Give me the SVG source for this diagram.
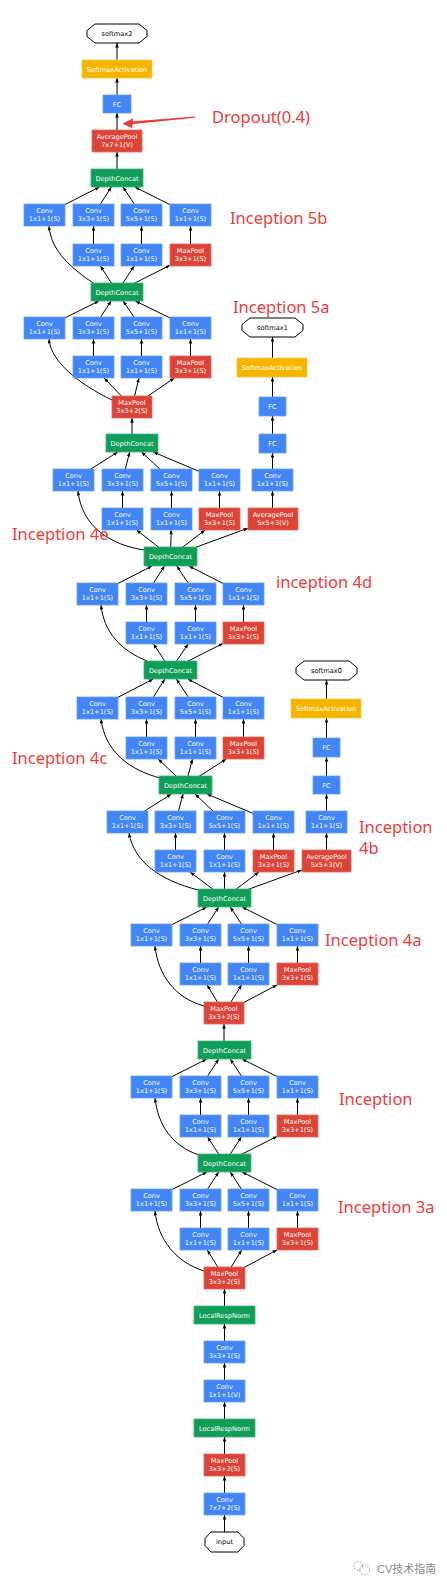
<svg xmlns="http://www.w3.org/2000/svg" width="447" height="1587" viewBox="0 0 447 1587">
<style>
.b{fill:#4285F4;stroke:#6A9EF6;stroke-width:0.8}
.r{fill:#DB4437;stroke:#E46A5F;stroke-width:0.8}
.g{fill:#0F9D58;stroke:#3DB37A;stroke-width:0.8}
.y{fill:#F4B400;stroke:#F7C640;stroke-width:0.8}
.o{fill:#fff;stroke:#000;stroke-width:1}
.t{fill:#fff;font-family:"DejaVu Sans",sans-serif;font-size:6.6px;text-anchor:middle}
.k{fill:#000;font-family:"DejaVu Sans",sans-serif;font-size:6.6px;text-anchor:middle}
.e{fill:none;stroke:#000;stroke-width:1;marker-end:url(#ah)}
.lb{fill:#F03A3A;font-family:"Noto Sans","Liberation Sans",sans-serif;font-size:16.5px}
</style>
<defs>
<marker id="ah" markerUnits="userSpaceOnUse" markerWidth="6" markerHeight="6" refX="4.5" refY="1.8" orient="auto"><path d="M0,0 L4.5,1.8 L0,3.6 z" fill="#000"/></marker>
</defs>
<rect width="447" height="1587" fill="#fff"/>
<g id="connectors">
<path class="e" d="M117,178 V152"/>
<path class="e" d="M117,141 V113"/>
<path class="e" d="M117,104 V78"/>
<path class="e" d="M117,69 V43"/>
<path class="e" d="M93,283 C73,269 51,252 49,226"/>
<path class="e" d="M117,292 L100.5,266"/>
<path class="e" d="M117,292 L134.2,266"/>
<path class="e" d="M117,292 L170,265.3"/>
<path class="e" d="M93.5,255 V226"/>
<path class="e" d="M141.5,255 V226"/>
<path class="e" d="M190.5,255 V226"/>
<path class="e" d="M44.5,215 L99.4,187"/>
<path class="e" d="M93.5,215 L111.3,187"/>
<path class="e" d="M141.5,215 L123,187"/>
<path class="e" d="M190.5,215 L134.9,187"/>
<path class="e" d="M112,400 C87,388 51,365 49,339"/>
<path class="e" d="M132,407 L104.1,378"/>
<path class="e" d="M132,407 L138.9,378"/>
<path class="e" d="M132,407 L174.4,378"/>
<path class="e" d="M93.5,367 V339"/>
<path class="e" d="M141.5,367 V339"/>
<path class="e" d="M190.5,367 V339"/>
<path class="e" d="M44.5,328 L98.9,301"/>
<path class="e" d="M93.5,328 L111.1,301"/>
<path class="e" d="M141.5,328 L123.1,301"/>
<path class="e" d="M190.5,328 L135.4,301"/>
<path class="e" d="M132,443 V418"/>
<path class="e" d="M144,550 C112,545 82,528 78,491"/>
<path class="e" d="M170.5,556.5 L136.6,530"/>
<path class="e" d="M170.5,556.5 L171.2,530"/>
<path class="e" d="M170.5,556.5 L205.1,530"/>
<path class="e" d="M170.5,556.5 L248,528.2"/>
<path class="e" d="M122.5,519 V491"/>
<path class="e" d="M171.5,519 V491"/>
<path class="e" d="M219.5,519 V491"/>
<path class="e" d="M73.5,480 L117.8,452"/>
<path class="e" d="M122.5,480 L129.7,452"/>
<path class="e" d="M171.5,480 L141.6,452"/>
<path class="e" d="M219.5,480 L153.3,452"/>
<path class="e" d="M272.5,519 V491"/>
<path class="e" d="M272.5,480 V453"/>
<path class="e" d="M272.5,443 V416"/>
<path class="e" d="M272.5,406 V377"/>
<path class="e" d="M272.5,367 V337"/>
<path class="e" d="M147,661 C120,650 104,632 101,605"/>
<path class="e" d="M170.5,670 L153.6,644"/>
<path class="e" d="M170.5,670 L188.1,644"/>
<path class="e" d="M170.5,670 L223,643.4"/>
<path class="e" d="M146.5,633 V605"/>
<path class="e" d="M195.5,633 V605"/>
<path class="e" d="M243.5,633 V605"/>
<path class="e" d="M97.5,594 L152,566"/>
<path class="e" d="M146.5,594 L164.4,566"/>
<path class="e" d="M195.5,594 L176.8,566"/>
<path class="e" d="M243.5,594 L189,566"/>
<path class="e" d="M160,778 C130,770 105,752 101,719"/>
<path class="e" d="M185.5,785 L158.1,759"/>
<path class="e" d="M185.5,785 L192.5,759"/>
<path class="e" d="M185.5,785 L226.3,759"/>
<path class="e" d="M146.5,748 V719"/>
<path class="e" d="M195.5,748 V719"/>
<path class="e" d="M243.5,748 V719"/>
<path class="e" d="M97.5,708 L153.2,679"/>
<path class="e" d="M146.5,708 L164.8,679"/>
<path class="e" d="M195.5,708 L176.4,679"/>
<path class="e" d="M243.5,708 L187.8,679"/>
<path class="e" d="M198,890 C160,880 134,862 129,833"/>
<path class="e" d="M224.5,898 L190.1,872"/>
<path class="e" d="M224.5,898 V872"/>
<path class="e" d="M224.5,898 L258.9,872"/>
<path class="e" d="M224.5,898 L302,869.9"/>
<path class="e" d="M175.5,861 V833"/>
<path class="e" d="M224.5,861 V833"/>
<path class="e" d="M273.5,861 V833"/>
<path class="e" d="M127.5,822 L171.4,794"/>
<path class="e" d="M175.5,822 L183.1,794"/>
<path class="e" d="M224.5,822 L195,794"/>
<path class="e" d="M273.5,822 L206.9,794"/>
<path class="e" d="M326.5,861 V833"/>
<path class="e" d="M326.5,822 V794"/>
<path class="e" d="M326.5,785 V757"/>
<path class="e" d="M326.5,747 V718"/>
<path class="e" d="M326.5,708 V680"/>
<path class="e" d="M204,1006 C175,998 158,975 155,946"/>
<path class="e" d="M224,1013 L207.1,985"/>
<path class="e" d="M224,1013 L241.6,985"/>
<path class="e" d="M224,1013 L277,984.9"/>
<path class="e" d="M200.5,974 V946"/>
<path class="e" d="M248.5,974 V946"/>
<path class="e" d="M297.5,974 V946"/>
<path class="e" d="M151.5,935 L206.8,907"/>
<path class="e" d="M200.5,935 L218.7,907"/>
<path class="e" d="M248.5,935 L230.3,907"/>
<path class="e" d="M297.5,935 L242.2,907"/>
<path class="e" d="M224,1050 V1024"/>
<path class="e" d="M199,1155 C172,1146 158,1125 155,1098"/>
<path class="e" d="M224.5,1163 L207.6,1137"/>
<path class="e" d="M224.5,1163 L241.4,1137"/>
<path class="e" d="M224.5,1163 L277,1136.4"/>
<path class="e" d="M200.5,1126 V1098"/>
<path class="e" d="M248.5,1126 V1098"/>
<path class="e" d="M297.5,1126 V1098"/>
<path class="e" d="M151.5,1087 L206.8,1059"/>
<path class="e" d="M200.5,1087 L218.7,1059"/>
<path class="e" d="M248.5,1087 L230.3,1059"/>
<path class="e" d="M297.5,1087 L242.2,1059"/>
<path class="e" d="M204,1271 C176,1262 158,1240 155,1211"/>
<path class="e" d="M224.5,1278 L207.3,1250"/>
<path class="e" d="M224.5,1278 L241.7,1250"/>
<path class="e" d="M224.5,1278 L277,1249.9"/>
<path class="e" d="M200.5,1239 V1211"/>
<path class="e" d="M248.5,1239 V1211"/>
<path class="e" d="M297.5,1239 V1211"/>
<path class="e" d="M151.5,1200 L206.8,1172"/>
<path class="e" d="M200.5,1200 L218.7,1172"/>
<path class="e" d="M248.5,1200 L230.3,1172"/>
<path class="e" d="M297.5,1200 L242.2,1172"/>
<path class="e" d="M224.5,1315 V1289"/>
<path class="e" d="M224.5,1352 V1324"/>
<path class="e" d="M224.5,1391 V1363"/>
<path class="e" d="M224.5,1428 V1402"/>
<path class="e" d="M224.5,1465 V1437"/>
<path class="e" d="M224.5,1504 V1476"/>
<path class="e" d="M224.5,1542 V1515"/>
</g>
<g id="softmax2"><polygon class="o" points="95,24 139,24 147,30.5 147,36.5 139,43 95,43 87,36.5 87,30.5"/><text class="k" x="117" y="35.8">softmax2</text></g>
<g id="sa2"><rect class="y" x="82" y="60" width="70" height="18"/><text class="t" x="117" y="71.5">SoftmaxActivation</text></g>
<g id="fc2"><rect class="b" x="103" y="95" width="28" height="18"/><text class="t" x="117" y="106.5">FC</text></g>
<g id="avgpool7"><rect class="r" x="92" y="130" width="50" height="22"/><text class="t" x="117" y="138.5">AveragePool</text><text class="t" x="117" y="147">7x7+1(V)</text></g>
<g id="dc5b"><rect class="g" x="91" y="169" width="52" height="18"/><text class="t" x="117" y="180.5">DepthConcat</text></g>
<g id="i5b_c1"><rect class="b" x="24" y="204" width="41" height="22"/><text class="t" x="44.5" y="212.5">Conv</text><text class="t" x="44.5" y="221">1x1+1(S)</text></g>
<g id="i5b_c2"><rect class="b" x="73" y="204" width="41" height="22"/><text class="t" x="93.5" y="212.5">Conv</text><text class="t" x="93.5" y="221">3x3+1(S)</text></g>
<g id="i5b_c3"><rect class="b" x="121" y="204" width="41" height="22"/><text class="t" x="141.5" y="212.5">Conv</text><text class="t" x="141.5" y="221">5x5+1(S)</text></g>
<g id="i5b_c4"><rect class="b" x="170" y="204" width="41" height="22"/><text class="t" x="190.5" y="212.5">Conv</text><text class="t" x="190.5" y="221">1x1+1(S)</text></g>
<g id="i5b_r2"><rect class="b" x="73" y="244" width="41" height="22"/><text class="t" x="93.5" y="252.5">Conv</text><text class="t" x="93.5" y="261">1x1+1(S)</text></g>
<g id="i5b_r3"><rect class="b" x="121" y="244" width="41" height="22"/><text class="t" x="141.5" y="252.5">Conv</text><text class="t" x="141.5" y="261">1x1+1(S)</text></g>
<g id="i5b_mp"><rect class="r" x="170" y="244" width="41" height="22"/><text class="t" x="190.5" y="252.5">MaxPool</text><text class="t" x="190.5" y="261">3x3+1(S)</text></g>
<g id="dc5a"><rect class="g" x="91" y="283" width="52" height="18"/><text class="t" x="117" y="294.5">DepthConcat</text></g>
<g id="i5a_c1"><rect class="b" x="24" y="317" width="41" height="22"/><text class="t" x="44.5" y="325.5">Conv</text><text class="t" x="44.5" y="334">1x1+1(S)</text></g>
<g id="i5a_c2"><rect class="b" x="73" y="317" width="41" height="22"/><text class="t" x="93.5" y="325.5">Conv</text><text class="t" x="93.5" y="334">3x3+1(S)</text></g>
<g id="i5a_c3"><rect class="b" x="121" y="317" width="41" height="22"/><text class="t" x="141.5" y="325.5">Conv</text><text class="t" x="141.5" y="334">5x5+1(S)</text></g>
<g id="i5a_c4"><rect class="b" x="170" y="317" width="41" height="22"/><text class="t" x="190.5" y="325.5">Conv</text><text class="t" x="190.5" y="334">1x1+1(S)</text></g>
<g id="i5a_r2"><rect class="b" x="73" y="356" width="41" height="22"/><text class="t" x="93.5" y="364.5">Conv</text><text class="t" x="93.5" y="373">1x1+1(S)</text></g>
<g id="i5a_r3"><rect class="b" x="121" y="356" width="41" height="22"/><text class="t" x="141.5" y="364.5">Conv</text><text class="t" x="141.5" y="373">1x1+1(S)</text></g>
<g id="i5a_mp"><rect class="r" x="170" y="356" width="41" height="22"/><text class="t" x="190.5" y="364.5">MaxPool</text><text class="t" x="190.5" y="373">3x3+1(S)</text></g>
<g id="mp4"><rect class="r" x="112" y="396" width="40" height="22"/><text class="t" x="132" y="404.5">MaxPool</text><text class="t" x="132" y="413">3x3+2(S)</text></g>
<g id="dc4e"><rect class="g" x="106" y="434" width="52" height="18"/><text class="t" x="132" y="445.5">DepthConcat</text></g>
<g id="i4e_c1"><rect class="b" x="53" y="469" width="41" height="22"/><text class="t" x="73.5" y="477.5">Conv</text><text class="t" x="73.5" y="486">1x1+1(S)</text></g>
<g id="i4e_c2"><rect class="b" x="102" y="469" width="41" height="22"/><text class="t" x="122.5" y="477.5">Conv</text><text class="t" x="122.5" y="486">3x3+1(S)</text></g>
<g id="i4e_c3"><rect class="b" x="151" y="469" width="41" height="22"/><text class="t" x="171.5" y="477.5">Conv</text><text class="t" x="171.5" y="486">5x5+1(S)</text></g>
<g id="i4e_c4"><rect class="b" x="199" y="469" width="41" height="22"/><text class="t" x="219.5" y="477.5">Conv</text><text class="t" x="219.5" y="486">1x1+1(S)</text></g>
<g id="i4e_r2"><rect class="b" x="102" y="508" width="41" height="22"/><text class="t" x="122.5" y="516.5">Conv</text><text class="t" x="122.5" y="525">1x1+1(S)</text></g>
<g id="i4e_r3"><rect class="b" x="151" y="508" width="41" height="22"/><text class="t" x="171.5" y="516.5">Conv</text><text class="t" x="171.5" y="525">1x1+1(S)</text></g>
<g id="i4e_mp"><rect class="r" x="199" y="508" width="41" height="22"/><text class="t" x="219.5" y="516.5">MaxPool</text><text class="t" x="219.5" y="525">3x3+1(S)</text></g>
<g id="aux2_pool"><rect class="r" x="248" y="508" width="50" height="22"/><text class="t" x="273" y="516.5">AveragePool</text><text class="t" x="273" y="525">5x5+3(V)</text></g>
<g id="aux2_conv"><rect class="b" x="252" y="469" width="41" height="22"/><text class="t" x="272.5" y="477.5">Conv</text><text class="t" x="272.5" y="486">1x1+1(S)</text></g>
<g id="aux2_fc1"><rect class="b" x="259" y="434" width="27" height="19"/><text class="t" x="272.5" y="446">FC</text></g>
<g id="aux2_fc2"><rect class="b" x="259" y="397" width="27" height="19"/><text class="t" x="272.5" y="409">FC</text></g>
<g id="aux2_sa"><rect class="y" x="237" y="358" width="70" height="19"/><text class="t" x="272" y="370">SoftmaxActivation</text></g>
<g id="softmax1"><polygon class="o" points="250,318 295,318 303,324.5 303,330.5 295,337 250,337 242,330.5 242,324.5"/><text class="k" x="272.5" y="329.8">softmax1</text></g>
<g id="dc4d"><rect class="g" x="144" y="547" width="53" height="19"/><text class="t" x="170.5" y="559">DepthConcat</text></g>
<g id="i4d_c1"><rect class="b" x="77" y="583" width="41" height="22"/><text class="t" x="97.5" y="591.5">Conv</text><text class="t" x="97.5" y="600">1x1+1(S)</text></g>
<g id="i4d_c2"><rect class="b" x="126" y="583" width="41" height="22"/><text class="t" x="146.5" y="591.5">Conv</text><text class="t" x="146.5" y="600">3x3+1(S)</text></g>
<g id="i4d_c3"><rect class="b" x="175" y="583" width="41" height="22"/><text class="t" x="195.5" y="591.5">Conv</text><text class="t" x="195.5" y="600">5x5+1(S)</text></g>
<g id="i4d_c4"><rect class="b" x="223" y="583" width="41" height="22"/><text class="t" x="243.5" y="591.5">Conv</text><text class="t" x="243.5" y="600">1x1+1(S)</text></g>
<g id="i4d_r2"><rect class="b" x="126" y="622" width="41" height="22"/><text class="t" x="146.5" y="630.5">Conv</text><text class="t" x="146.5" y="639">1x1+1(S)</text></g>
<g id="i4d_r3"><rect class="b" x="175" y="622" width="41" height="22"/><text class="t" x="195.5" y="630.5">Conv</text><text class="t" x="195.5" y="639">1x1+1(S)</text></g>
<g id="i4d_mp"><rect class="r" x="223" y="622" width="41" height="22"/><text class="t" x="243.5" y="630.5">MaxPool</text><text class="t" x="243.5" y="639">3x3+1(S)</text></g>
<g id="dc4c"><rect class="g" x="144" y="661" width="53" height="18"/><text class="t" x="170.5" y="672.5">DepthConcat</text></g>
<g id="i4c_c1"><rect class="b" x="77" y="697" width="41" height="22"/><text class="t" x="97.5" y="705.5">Conv</text><text class="t" x="97.5" y="714">1x1+1(S)</text></g>
<g id="i4c_c2"><rect class="b" x="126" y="697" width="41" height="22"/><text class="t" x="146.5" y="705.5">Conv</text><text class="t" x="146.5" y="714">3x3+1(S)</text></g>
<g id="i4c_c3"><rect class="b" x="175" y="697" width="41" height="22"/><text class="t" x="195.5" y="705.5">Conv</text><text class="t" x="195.5" y="714">5x5+1(S)</text></g>
<g id="i4c_c4"><rect class="b" x="223" y="697" width="41" height="22"/><text class="t" x="243.5" y="705.5">Conv</text><text class="t" x="243.5" y="714">1x1+1(S)</text></g>
<g id="i4c_r2"><rect class="b" x="126" y="737" width="41" height="22"/><text class="t" x="146.5" y="745.5">Conv</text><text class="t" x="146.5" y="754">1x1+1(S)</text></g>
<g id="i4c_r3"><rect class="b" x="175" y="737" width="41" height="22"/><text class="t" x="195.5" y="745.5">Conv</text><text class="t" x="195.5" y="754">1x1+1(S)</text></g>
<g id="i4c_mp"><rect class="r" x="223" y="737" width="41" height="22"/><text class="t" x="243.5" y="745.5">MaxPool</text><text class="t" x="243.5" y="754">3x3+1(S)</text></g>
<g id="dc4b"><rect class="g" x="159" y="776" width="53" height="18"/><text class="t" x="185.5" y="787.5">DepthConcat</text></g>
<g id="softmax0"><polygon class="o" points="304,661 349,661 357,667.5 357,673.5 349,680 304,680 296,673.5 296,667.5"/><text class="k" x="326.5" y="672.8">softmax0</text></g>
<g id="aux1_sa"><rect class="y" x="291" y="699" width="70" height="19"/><text class="t" x="326" y="711">SoftmaxActivation</text></g>
<g id="aux1_fc2"><rect class="b" x="313" y="738" width="27" height="19"/><text class="t" x="326.5" y="750">FC</text></g>
<g id="aux1_fc1"><rect class="b" x="313" y="776" width="27" height="18"/><text class="t" x="326.5" y="787.5">FC</text></g>
<g id="aux1_conv"><rect class="b" x="306" y="811" width="41" height="22"/><text class="t" x="326.5" y="819.5">Conv</text><text class="t" x="326.5" y="828">1x1+1(S)</text></g>
<g id="aux1_pool"><rect class="r" x="302" y="850" width="49" height="22"/><text class="t" x="326.5" y="858.5">AveragePool</text><text class="t" x="326.5" y="867">5x5+3(V)</text></g>
<g id="i4b_c1"><rect class="b" x="107" y="811" width="41" height="22"/><text class="t" x="127.5" y="819.5">Conv</text><text class="t" x="127.5" y="828">1x1+1(S)</text></g>
<g id="i4b_c2"><rect class="b" x="155" y="811" width="41" height="22"/><text class="t" x="175.5" y="819.5">Conv</text><text class="t" x="175.5" y="828">3x3+1(S)</text></g>
<g id="i4b_c3"><rect class="b" x="204" y="811" width="41" height="22"/><text class="t" x="224.5" y="819.5">Conv</text><text class="t" x="224.5" y="828">5x5+1(S)</text></g>
<g id="i4b_c4"><rect class="b" x="253" y="811" width="41" height="22"/><text class="t" x="273.5" y="819.5">Conv</text><text class="t" x="273.5" y="828">1x1+1(S)</text></g>
<g id="i4b_r2"><rect class="b" x="155" y="850" width="41" height="22"/><text class="t" x="175.5" y="858.5">Conv</text><text class="t" x="175.5" y="867">1x1+1(S)</text></g>
<g id="i4b_r3"><rect class="b" x="204" y="850" width="41" height="22"/><text class="t" x="224.5" y="858.5">Conv</text><text class="t" x="224.5" y="867">1x1+1(S)</text></g>
<g id="i4b_mp"><rect class="r" x="253" y="850" width="41" height="22"/><text class="t" x="273.5" y="858.5">MaxPool</text><text class="t" x="273.5" y="867">3x3+1(S)</text></g>
<g id="dc4a"><rect class="g" x="198" y="889" width="53" height="18"/><text class="t" x="224.5" y="900.5">DepthConcat</text></g>
<g id="i4a_c1"><rect class="b" x="131" y="924" width="41" height="22"/><text class="t" x="151.5" y="932.5">Conv</text><text class="t" x="151.5" y="941">1x1+1(S)</text></g>
<g id="i4a_c2"><rect class="b" x="180" y="924" width="41" height="22"/><text class="t" x="200.5" y="932.5">Conv</text><text class="t" x="200.5" y="941">3x3+1(S)</text></g>
<g id="i4a_c3"><rect class="b" x="228" y="924" width="41" height="22"/><text class="t" x="248.5" y="932.5">Conv</text><text class="t" x="248.5" y="941">5x5+1(S)</text></g>
<g id="i4a_c4"><rect class="b" x="277" y="924" width="41" height="22"/><text class="t" x="297.5" y="932.5">Conv</text><text class="t" x="297.5" y="941">1x1+1(S)</text></g>
<g id="i4a_r2"><rect class="b" x="180" y="963" width="41" height="22"/><text class="t" x="200.5" y="971.5">Conv</text><text class="t" x="200.5" y="980">1x1+1(S)</text></g>
<g id="i4a_r3"><rect class="b" x="228" y="963" width="41" height="22"/><text class="t" x="248.5" y="971.5">Conv</text><text class="t" x="248.5" y="980">1x1+1(S)</text></g>
<g id="i4a_mp"><rect class="r" x="277" y="963" width="41" height="22"/><text class="t" x="297.5" y="971.5">MaxPool</text><text class="t" x="297.5" y="980">3x3+1(S)</text></g>
<g id="mp3"><rect class="r" x="204" y="1002" width="40" height="22"/><text class="t" x="224" y="1010.5">MaxPool</text><text class="t" x="224" y="1019">3x3+2(S)</text></g>
<g id="dc3b"><rect class="g" x="198" y="1041" width="53" height="18"/><text class="t" x="224.5" y="1052.5">DepthConcat</text></g>
<g id="i3b_c1"><rect class="b" x="131" y="1076" width="41" height="22"/><text class="t" x="151.5" y="1084.5">Conv</text><text class="t" x="151.5" y="1093">1x1+1(S)</text></g>
<g id="i3b_c2"><rect class="b" x="180" y="1076" width="41" height="22"/><text class="t" x="200.5" y="1084.5">Conv</text><text class="t" x="200.5" y="1093">3x3+1(S)</text></g>
<g id="i3b_c3"><rect class="b" x="228" y="1076" width="41" height="22"/><text class="t" x="248.5" y="1084.5">Conv</text><text class="t" x="248.5" y="1093">5x5+1(S)</text></g>
<g id="i3b_c4"><rect class="b" x="277" y="1076" width="41" height="22"/><text class="t" x="297.5" y="1084.5">Conv</text><text class="t" x="297.5" y="1093">1x1+1(S)</text></g>
<g id="i3b_r2"><rect class="b" x="180" y="1115" width="41" height="22"/><text class="t" x="200.5" y="1123.5">Conv</text><text class="t" x="200.5" y="1132">1x1+1(S)</text></g>
<g id="i3b_r3"><rect class="b" x="228" y="1115" width="41" height="22"/><text class="t" x="248.5" y="1123.5">Conv</text><text class="t" x="248.5" y="1132">1x1+1(S)</text></g>
<g id="i3b_mp"><rect class="r" x="277" y="1115" width="41" height="22"/><text class="t" x="297.5" y="1123.5">MaxPool</text><text class="t" x="297.5" y="1132">3x3+1(S)</text></g>
<g id="dc3a"><rect class="g" x="198" y="1154" width="53" height="18"/><text class="t" x="224.5" y="1165.5">DepthConcat</text></g>
<g id="i3a_c1"><rect class="b" x="131" y="1189" width="41" height="22"/><text class="t" x="151.5" y="1197.5">Conv</text><text class="t" x="151.5" y="1206">1x1+1(S)</text></g>
<g id="i3a_c2"><rect class="b" x="180" y="1189" width="41" height="22"/><text class="t" x="200.5" y="1197.5">Conv</text><text class="t" x="200.5" y="1206">3x3+1(S)</text></g>
<g id="i3a_c3"><rect class="b" x="228" y="1189" width="41" height="22"/><text class="t" x="248.5" y="1197.5">Conv</text><text class="t" x="248.5" y="1206">5x5+1(S)</text></g>
<g id="i3a_c4"><rect class="b" x="277" y="1189" width="41" height="22"/><text class="t" x="297.5" y="1197.5">Conv</text><text class="t" x="297.5" y="1206">1x1+1(S)</text></g>
<g id="i3a_r2"><rect class="b" x="180" y="1228" width="41" height="22"/><text class="t" x="200.5" y="1236.5">Conv</text><text class="t" x="200.5" y="1245">1x1+1(S)</text></g>
<g id="i3a_r3"><rect class="b" x="228" y="1228" width="41" height="22"/><text class="t" x="248.5" y="1236.5">Conv</text><text class="t" x="248.5" y="1245">1x1+1(S)</text></g>
<g id="i3a_mp"><rect class="r" x="277" y="1228" width="41" height="22"/><text class="t" x="297.5" y="1236.5">MaxPool</text><text class="t" x="297.5" y="1245">3x3+1(S)</text></g>
<g id="mp2"><rect class="r" x="204" y="1267" width="41" height="22"/><text class="t" x="224.5" y="1275.5">MaxPool</text><text class="t" x="224.5" y="1284">3x3+2(S)</text></g>
<g id="lrn2"><rect class="g" x="194" y="1306" width="61" height="18"/><text class="t" x="224.5" y="1317.5">LocalRespNorm</text></g>
<g id="conv3"><rect class="b" x="204" y="1341" width="41" height="22"/><text class="t" x="224.5" y="1349.5">Conv</text><text class="t" x="224.5" y="1358">3x3+1(S)</text></g>
<g id="conv2"><rect class="b" x="204" y="1380" width="41" height="22"/><text class="t" x="224.5" y="1388.5">Conv</text><text class="t" x="224.5" y="1397">1x1+1(V)</text></g>
<g id="lrn1"><rect class="g" x="194" y="1419" width="61" height="18"/><text class="t" x="224.5" y="1430.5">LocalRespNorm</text></g>
<g id="mp1"><rect class="r" x="204" y="1454" width="41" height="22"/><text class="t" x="224.5" y="1462.5">MaxPool</text><text class="t" x="224.5" y="1471">3x3+2(S)</text></g>
<g id="conv1"><rect class="b" x="204" y="1493" width="41" height="22"/><text class="t" x="224.5" y="1501.5">Conv</text><text class="t" x="224.5" y="1510">7x7+2(S)</text></g>
<g id="input"><polygon class="o" points="211,1532 238,1532 244,1538.5 244,1545.5 238,1552 211,1552 205,1545.5 205,1538.5"/><text class="k" x="224.5" y="1544.3">input</text></g>
<g id="annotations">
<polygon points="195,116.6 195,117.8 131,124.2 131,121.4" fill="#F03A3A"/>
<polygon points="122.5,123.8 133,118.3 132,128.3" fill="#F03A3A"/>
<text class="lb" x="212" y="123">Dropout(0.4)</text>
<text class="lb" x="230" y="224">Inception 5b</text>
<text class="lb" x="233" y="313">Inception 5a</text>
<text class="lb" x="12" y="540">Inception 4e</text>
<text class="lb" x="276" y="588">inception 4d</text>
<text class="lb" x="12" y="764">Inception 4c</text>
<text class="lb" x="359" y="833">Inception</text>
<text class="lb" x="359" y="854">4b</text>
<text class="lb" x="325" y="946">Inception 4a</text>
<text class="lb" x="339" y="1105">Inception</text>
<text class="lb" x="338" y="1213">Inception 3a</text>
</g>
<g id="watermark" fill="none" stroke="#999" stroke-width="0.8">
<circle cx="358" cy="1566" r="4.5" stroke-dasharray="2 1.2"/>
<circle cx="364.5" cy="1570" r="5" stroke-dasharray="2 1.2"/>
<text x="377" y="1573" fill="#888" stroke="none" font-family="Liberation Sans, Noto Sans CJK SC, sans-serif" font-size="11">CV技术指南</text>
</g>
</svg>
